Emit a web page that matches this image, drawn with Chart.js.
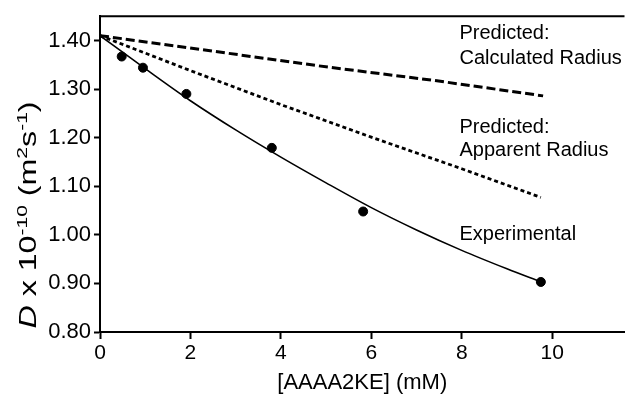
<!DOCTYPE html>
<html>
<head>
<meta charset="utf-8">
<script src="https://cdn.jsdelivr.net/npm/chart.js@4.4.1/dist/chart.umd.min.js"></script>
<style>
    body { margin: 0; background: #fff; }
    #wrap { width: 630px; height: 397px; position: relative; }
</style>
</head>
<body>
<div id="wrap"><canvas id="diffChart"></canvas></div>
<script>
// values
const expX = [0.48, 0.95, 1.91, 3.80, 5.82, 9.75];
const expY = [1.367, 1.344, 1.290, 1.179, 1.048, 0.903];

const fitX = [0, 1, 2, 3, 4, 5, 6, 7, 8, 9, 9.75];
const fitY = [1.410, 1.342, 1.276, 1.216, 1.160, 1.107, 1.056, 1.010, 0.968, 0.930, 0.903];

const calcX = [0, 2.19, 4.82, 7.45, 9.8];
const calcY = [1.410, 1.382, 1.348, 1.317, 1.286];

const appX = [0, 2, 4, 6, 8, 9.75];
const appY = [1.410, 1.338, 1.268, 1.201, 1.136, 1.077];

const xTicks = [0, 2, 4, 6, 8, 10];

// text labels next to the curves (x in mM, y in axis units, at baseline)
const labels = [
    { text: 'Predicted:', x: 7.95, y: 1.4027 },
    { text: 'Calculated Radius', x: 7.95, y: 1.3516 },
    { text: 'Predicted:', x: 7.95, y: 1.2086 },
    { text: 'Apparent Radius', x: 7.95, y: 1.1618 },
    { text: 'Experimental', x: 7.95, y: 0.9884 }
];

function pts(xs, ys) {
    return xs.map((x, i) => ({ x: x, y: ys[i] }));
}

const FONT = 'Arial, "Liberation Sans", sans-serif';

const extras = {
    id: 'extras',
    afterDraw(chart) {
        const c = chart.ctx;
        const area = chart.chartArea;
        const xs = chart.scales.x;
        const ys = chart.scales.y;
        c.save();
        // top frame line
        c.strokeStyle = '#000';
        c.lineWidth = 2;
        c.beginPath();
        c.moveTo(area.left - 1, area.top);
        c.lineTo(area.right, area.top);
        c.stroke();

        // curve labels
        c.fillStyle = '#000';
        c.font = '20px ' + FONT;
        c.textBaseline = 'alphabetic';
        labels.forEach(l => {
            c.fillText(l.text, xs.getPixelForValue(l.x), ys.getPixelForValue(l.y));
        });

        // y axis title with superscripts (a bit stretched along its length like the original)
        const big = 23, small = 15;
        const parts = [
            { t: 'D', f: 'italic ' + big + 'px ' + FONT, dy: 0 },
            { t: ' x 10', f: big + 'px ' + FONT, dy: 0 },
            { t: '-10', f: small + 'px ' + FONT, dy: -9 },
            { t: ' (m', f: big + 'px ' + FONT, dy: 0 },
            { t: '2', f: small + 'px ' + FONT, dy: -9 },
            { t: 's', f: big + 'px ' + FONT, dy: 0 },
            { t: '-1', f: small + 'px ' + FONT, dy: -9 },
            { t: ')', f: big + 'px ' + FONT, dy: 0 }
        ];
        let total = 0;
        parts.forEach(p => { c.font = p.f; p.w = c.measureText(p.t).width; total += p.w; });
        c.translate(36, 215);
        c.rotate(-Math.PI / 2);
        c.scale(1.4, 1);
        let pos = -total / 2;
        parts.forEach(p => {
            c.font = p.f;
            c.fillText(p.t, pos, p.dy);
            pos += p.w;
        });
        c.restore();
    }
};

new Chart(document.getElementById('diffChart'), {
    type: 'scatter',
    data: {
        datasets: [
            {
                label: 'Predicted: Calculated Radius',
                data: pts(calcX, calcY),
                showLine: true,
                borderColor: '#000',
                borderWidth: 3,
                borderDash: [9, 4],
                pointRadius: 0
            },
            {
                label: 'Predicted: Apparent Radius',
                data: pts(appX, appY),
                showLine: true,
                borderColor: '#000',
                borderWidth: 2.8,
                borderDash: [4, 3],
                pointRadius: 0
            },
            {
                label: 'Fit',
                data: pts(fitX, fitY),
                showLine: true,
                borderColor: '#000',
                borderWidth: 1.6,
                cubicInterpolationMode: 'monotone',
                pointRadius: 0
            },
            {
                label: 'Experimental',
                data: pts(expX, expY),
                showLine: false,
                backgroundColor: '#000',
                borderColor: '#000',
                pointRadius: 4.5
            }
        ]
    },
    options: {
        responsive: true,
        maintainAspectRatio: false,
        animation: false,
        layout: { padding: { top: 14, right: 0, left: 0, bottom: 0 } },
        plugins: {
            legend: { display: false },
            tooltip: { enabled: false }
        },
        scales: {
            x: {
                type: 'linear',
                min: 0,
                max: 11.6,
                afterFit: s => { s.height = 65; },
                afterBuildTicks: s => { s.ticks = xTicks.map(v => ({ value: v })); },
                ticks: {
                    color: '#000',
                    font: { size: 21, family: FONT },
                    padding: 2,
                    maxRotation: 0
                },
                grid: { drawOnChartArea: false, tickLength: 7, tickColor: '#000', tickWidth: 2 },
                border: { color: '#000', width: 2 },
                title: {
                    display: true,
                    text: '[AAAA2KE] (mM)',
                    color: '#000',
                    font: { size: 22, family: FONT },
                    padding: { top: 0, bottom: 1 }
                }
            },
            y: {
                min: 0.8,
                max: 1.45,
                afterFit: s => { s.width = 100; },
                ticks: {
                    stepSize: 0.05,
                    color: '#000',
                    font: { size: 22, family: FONT },
                    padding: 3,
                    callback: v => (Math.round(v * 100) % 10 === 0 ? v.toFixed(2) : '')
                },
                grid: {
                    drawOnChartArea: false,
                    tickLength: 6,
                    tickWidth: 2,
                    tickColor: ctx => (ctx.tick && Math.abs(ctx.tick.value - 1.45) < 1e-6 ? 'rgba(0,0,0,0)' : '#000')
                },
                border: { color: '#000', width: 2 }
            }
        }
    },
    plugins: [extras]
});
</script>
</body>
</html>
